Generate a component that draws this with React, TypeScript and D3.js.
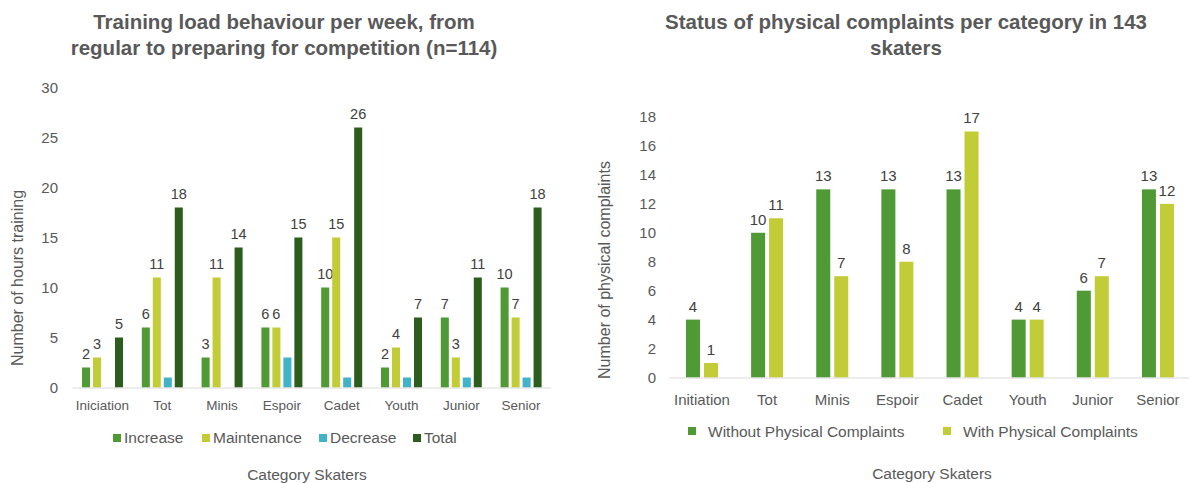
import React from "react";
import * as d3 from "d3";

// ---------- Data: left chart ----------
const leftCategories = ["Iniciation", "Tot", "Minis", "Espoir", "Cadet", "Youth", "Junior", "Senior"];
const leftSeries = ["Increase", "Maintenance", "Decrease", "Total"];
const increaseValues = [2, 6, 3, 6, 10, 2, 7, 10];
const maintenanceValues = [3, 11, 11, 6, 15, 4, 3, 7];
const decreaseValues = [0, 1, 0, 3, 1, 1, 1, 1];
const totalValues = [5, 18, 14, 15, 26, 7, 11, 18];
const leftTicks = [0, 5, 10, 15, 20, 25, 30];
const leftLabeled = [true, true, false, true];

// ---------- Data: right chart ----------
const rightCategories = ["Initiation", "Tot", "Minis", "Espoir", "Cadet", "Youth", "Junior", "Senior"];
const rightSeries = ["Without Physical Complaints", "With Physical Complaints"];
const withoutValues = [4, 10, 13, 13, 13, 4, 6, 13];
const withValues = [1, 11, 7, 8, 17, 4, 7, 12];
const rightTicks = [0, 2, 4, 6, 8, 10, 12, 14, 16, 18];

const FONT = "'Liberation Sans', Arial, Helvetica, sans-serif";
const TXT = "#595959";
const LBL = "#404040";
const AXIS = "#d9d9d9";

const leftColors = ["#4f9a34", "#c2cc36", "#40b3c8", "#2c5d1d"];
const rightColors = ["#4f9a34", "#c2cc36"];

function LeftChart() {
  const valuesBySeries = [increaseValues, maintenanceValues, decreaseValues, totalValues];
  const x = d3.scaleBand<string>().domain(leftCategories).range([72.6, 551]).padding(0);
  const bw = x.bandwidth();
  const inner = d3
    .scaleBand<string>()
    .domain(leftSeries)
    .range([(bw - 41) / 2, (bw + 41) / 2])
    .paddingInner(0.27)
    .paddingOuter(0);
  const y = d3.scaleLinear().domain([0, 30]).range([387.5, 87.5]);

  const legendX = [113, 202, 319, 413];
  return (
    <g>
      <text x={284} y={29} textAnchor="middle" fontFamily={FONT} fontWeight="bold" fontSize={20.5} fill={TXT}>
        Training load behaviour per week, from
      </text>
      <text x={284} y={55} textAnchor="middle" fontFamily={FONT} fontWeight="bold" fontSize={20.5} fill={TXT}>
        regular to preparing for competition (n=114)
      </text>
      {leftTicks.map((t) => (
        <text key={t} x={58} y={y(t) + 5} textAnchor="end" fontFamily={FONT} fontSize={15} fill={TXT}>
          {t}
        </text>
      ))}
      <text
        transform={`translate(23,278) rotate(-90)`}
        textAnchor="middle"
        fontFamily={FONT}
        fontSize={16}
        fill={TXT}
      >
        Number of hours training
      </text>
      {leftCategories.map((c, i) => (
        <g key={c} transform={`translate(${x(c)},0)`}>
          {leftSeries.map((s, j) => {
            const v = valuesBySeries[j][i];
            if (v <= 0) return null;
            const bx = inner(s)!;
            return (
              <g key={s}>
                <rect x={bx} y={y(v)} width={inner.bandwidth()} height={y(0) - y(v)} fill={leftColors[j]} />
                {leftLabeled[j] && (
                  <text
                    x={bx + inner.bandwidth() / 2}
                    y={y(v) - 8.5}
                    textAnchor="middle"
                    fontFamily={FONT}
                    fontSize={14.5}
                    fill={LBL}
                  >
                    {v}
                  </text>
                )}
              </g>
            );
          })}
          <text x={bw / 2} y={410} textAnchor="middle" fontFamily={FONT} fontSize={13.5} fill={TXT}>
            {c}
          </text>
        </g>
      ))}
      <line x1={72.6} x2={551} y1={y(0) + 0.5} y2={y(0) + 0.5} stroke={AXIS} strokeWidth={1} />
      {leftSeries.map((s, j) => (
        <g key={s}>
          <rect x={legendX[j]} y={434} width={8} height={8} fill={leftColors[j]} />
          <text x={legendX[j] + 11} y={443} fontFamily={FONT} fontSize={15.5} fill={TXT}>
            {s}
          </text>
        </g>
      ))}
      <text x={307} y={480} textAnchor="middle" fontFamily={FONT} fontSize={15.5} fill={TXT}>
        Category Skaters
      </text>
    </g>
  );
}

function RightChart() {
  const valuesBySeries = [withoutValues, withValues];
  const x = d3.scaleBand<string>().domain(rightCategories).range([669.4, 1190.5]).padding(0);
  const bw = x.bandwidth();
  const inner = d3
    .scaleBand<string>()
    .domain(rightSeries)
    .range([(bw - 32) / 2, (bw + 32) / 2])
    .paddingInner(0.222)
    .paddingOuter(0);
  const y = d3.scaleLinear().domain([0, 18]).range([377.5, 117]);
  const legendX = [688, 943];
  return (
    <g>
      <text x={906} y={29} textAnchor="middle" fontFamily={FONT} fontWeight="bold" fontSize={20.5} fill={TXT}>
        Status of physical complaints per category in 143
      </text>
      <text x={906} y={55} textAnchor="middle" fontFamily={FONT} fontWeight="bold" fontSize={20.5} fill={TXT}>
        skaters
      </text>
      {rightTicks.map((t) => (
        <text key={t} x={656} y={y(t) + 5} textAnchor="end" fontFamily={FONT} fontSize={15} fill={TXT}>
          {t}
        </text>
      ))}
      <text
        transform={`translate(610,270) rotate(-90)`}
        textAnchor="middle"
        fontFamily={FONT}
        fontSize={16}
        fill={TXT}
      >
        Number of physical complaints
      </text>
      {rightCategories.map((c, i) => (
        <g key={c} transform={`translate(${x(c)},0)`}>
          {rightSeries.map((s, j) => {
            const v = valuesBySeries[j][i];
            const bx = inner(s)!;
            return (
              <g key={s}>
                <rect x={bx} y={y(v)} width={inner.bandwidth()} height={y(0) - y(v)} fill={rightColors[j]} />
                <text
                  x={bx + inner.bandwidth() / 2}
                  y={y(v) - 8}
                  textAnchor="middle"
                  fontFamily={FONT}
                  fontSize={15}
                  fill={LBL}
                >
                  {v}
                </text>
              </g>
            );
          })}
          <text x={bw / 2} y={404.5} textAnchor="middle" fontFamily={FONT} fontSize={15} fill={TXT}>
            {c}
          </text>
        </g>
      ))}
      <line x1={669.4} x2={1190.5} y1={y(0) + 0.5} y2={y(0) + 0.5} stroke={AXIS} strokeWidth={1} />
      {rightSeries.map((s, j) => (
        <g key={s}>
          <rect x={legendX[j]} y={427} width={8} height={8} fill={rightColors[j]} />
          <text x={legendX[j] + 20} y={436.5} fontFamily={FONT} fontSize={15.5} fill={TXT}>
            {s}
          </text>
        </g>
      ))}
      <text x={932} y={479} textAnchor="middle" fontFamily={FONT} fontSize={15.5} fill={TXT}>
        Category Skaters
      </text>
    </g>
  );
}

export default function App() {
  return (
    <svg
      width={1189}
      height={483}
      viewBox="0 0 1189 483"
      style={{ position: "absolute", left: 0, top: 0, background: "#ffffff" }}
    >
      <rect x={0} y={0} width={1189} height={483} fill="#ffffff" />
      <LeftChart />
      <RightChart />
    </svg>
  );
}
